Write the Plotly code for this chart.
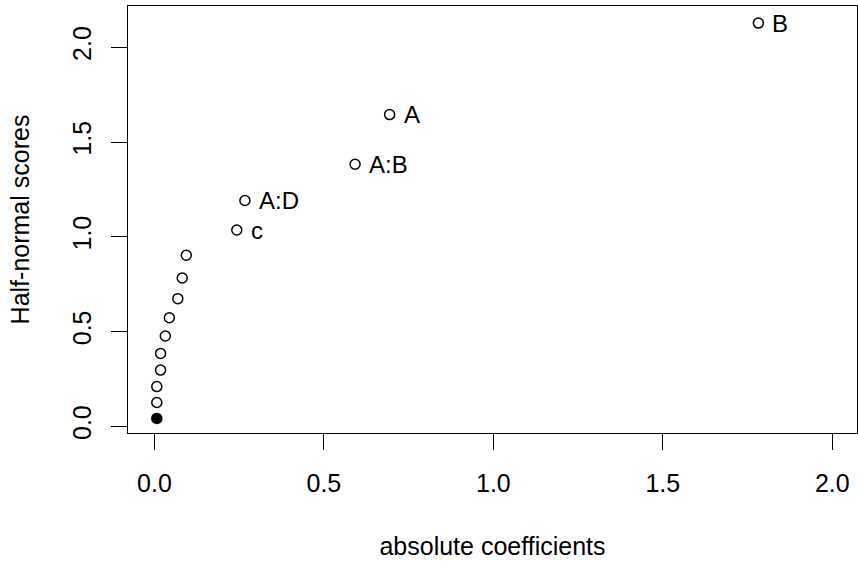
import plotly.graph_objects as go

# Data (half-normal plot of effects)
abs_coef = [0.007, 0.007, 0.007, 0.018, 0.018, 0.032, 0.044, 0.069, 0.082, 0.094,
            0.243, 0.267, 0.592, 0.694, 1.782]
hn_scores = [0.042, 0.126, 0.210, 0.297, 0.385, 0.477, 0.573, 0.674, 0.783, 0.903,
             1.036, 1.192, 1.383, 1.645, 2.128]
labels = ["", "", "", "", "", "", "", "", "", "", "c", "A:D", "A:B", "A", "B"]
filled = [True] + [False] * 14
x_ticks = [0.0, 0.5, 1.0, 1.5, 2.0]
y_ticks = [0.0, 0.5, 1.0, 1.5, 2.0]

FONT = "Liberation Sans, Arial, Helvetica, sans-serif"
FS = 25

fig = go.Figure()
fig.add_trace(go.Scatter(
    x=abs_coef, y=hn_scores, mode="markers",
    marker=dict(size=10, symbol="circle",
                color=["black" if f else "white" for f in filled],
                line=dict(color="black", width=1.5)),
    hoverinfo="x+y", showlegend=False,
))

for xv, yv, lab in zip(abs_coef, hn_scores, labels):
    if lab:
        fig.add_annotation(x=xv, y=yv, text=lab, showarrow=False,
                           xanchor="left", yanchor="middle", xshift=12,
                           font=dict(family=FONT, size=24, color="black"))

axis_common = dict(
    showline=True, linecolor="black", linewidth=1, mirror=True,
    ticks="outside", ticklen=16, tickwidth=1, tickcolor="black",
    showgrid=False, zeroline=False, tickformat=".1f",
    tickfont=dict(family=FONT, size=FS, color="black"),
)

fig.update_layout(
    width=858, height=561,
    margin=dict(l=128, r=1, t=6, b=128),
    paper_bgcolor="white", plot_bgcolor="white",
    font=dict(family=FONT, size=FS, color="black"),
    xaxis=dict(range=[-0.078, 2.073], tickvals=x_ticks,
               ticklabelstandoff=12,
               title=dict(text="absolute coefficients", standoff=41,
                          font=dict(family=FONT, size=FS, color="black")),
               **axis_common),
    yaxis=dict(range=[-0.035, 2.218], tickvals=y_ticks, tickangle=-90,
               ticklabelstandoff=10,
               title=dict(text="Half-normal scores", standoff=31,
                          font=dict(family=FONT, size=FS, color="black")),
               **axis_common),
)

fig.write_html(
    "out.html",
    config={"displayModeBar": False},
    post_script="document.body.style.margin='0';document.body.style.overflow='hidden';",
)
